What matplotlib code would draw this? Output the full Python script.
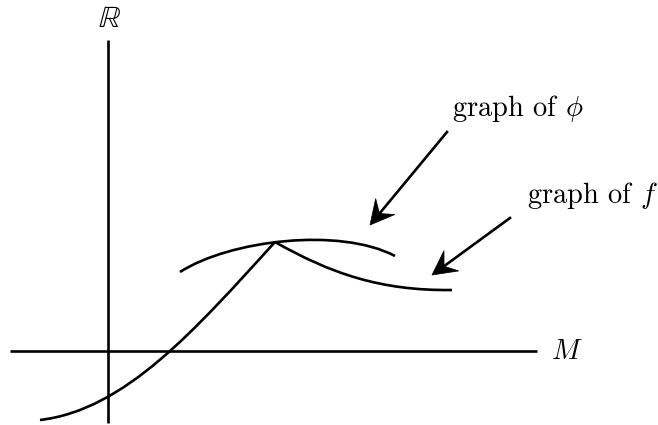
import matplotlib
matplotlib.use('Agg')
import matplotlib.pyplot as plt
import numpy as np
from matplotlib.path import Path
from matplotlib.patches import PathPatch, Polygon

plt.rcParams['mathtext.fontset'] = 'cm'

### Diagram data (pixel-like coordinates, y grows downward) ###
axis_M = [(10, 351), (537, 351)]
axis_R = [(108, 40), (108, 423)]

# graph of f: S-shaped rise up to the kink, then decay (cubic Bezier control points)
f_left = [(40, 420), (125, 410), (195, 330), (275, 242)]
f_right = [(275, 242), (330, 273), (380, 291), (452, 290)]

# graph of phi: arc over the kink
phi_arc = [(180, 272), (230, 240), (340, 227), (395, 256)]

arrow_phi = [(447, 132), (370, 225)]
arrow_f = [(510, 218), (432, 275)]

label_phi = (452, 108, r'graph of $\phi$')
label_f = (527, 195, r'graph of $f$')
label_M = (551, 351, r'$M$')
label_R = (109, 18, r'$\mathbb{R}$')

lw = 1.9

fig = plt.figure(figsize=(6.58, 4.25), dpi=100)
ax = fig.add_axes([0, 0, 1, 1])
ax.set_xlim(0, 658)
ax.set_ylim(425, 0)
ax.axis('off')

## Axes lines
for seg in (axis_M, axis_R):
    xs, ys = zip(*seg)
    ax.plot(xs, ys, color='black', lw=lw, solid_capstyle='butt')

## Curves
def bezier(pts):
    codes = [Path.MOVETO, Path.CURVE4, Path.CURVE4, Path.CURVE4]
    return PathPatch(Path(pts, codes), fill=False, lw=lw, edgecolor='black',
                     capstyle='butt', joinstyle='miter')

ax.add_patch(bezier(f_left))
ax.add_patch(bezier(f_right))
ax.add_patch(bezier(phi_arc))

## Stealth arrows
def stealth(tail, tip, L=24, W=12.5):
    t = np.array(tail, float); p = np.array(tip, float)
    d = (p - t) / np.linalg.norm(p - t)
    n = np.array([-d[1], d[0]])
    notch = p - 0.62 * L * d
    ax.plot([t[0], notch[0]], [t[1], notch[1]], color='black', lw=lw)
    poly = [p, p - L * d + W * n, notch, p - L * d - W * n]
    ax.add_patch(Polygon(poly, closed=True, facecolor='black', edgecolor='black', lw=0.5))

stealth(*arrow_phi)
stealth(*arrow_f)

## Labels
fs = 20.5
ax.text(label_phi[0], label_phi[1], label_phi[2], family='cmr10', fontsize=fs, ha='left', va='center')
ax.text(label_f[0], label_f[1], label_f[2], family='cmr10', fontsize=fs, ha='left', va='center')
ax.text(label_M[0], label_M[1], label_M[2], fontsize=fs, ha='left', va='center')
ax.text(label_R[0], label_R[1], label_R[2], fontsize=22, ha='center', va='center')

fig.savefig('out.png', dpi=100)
